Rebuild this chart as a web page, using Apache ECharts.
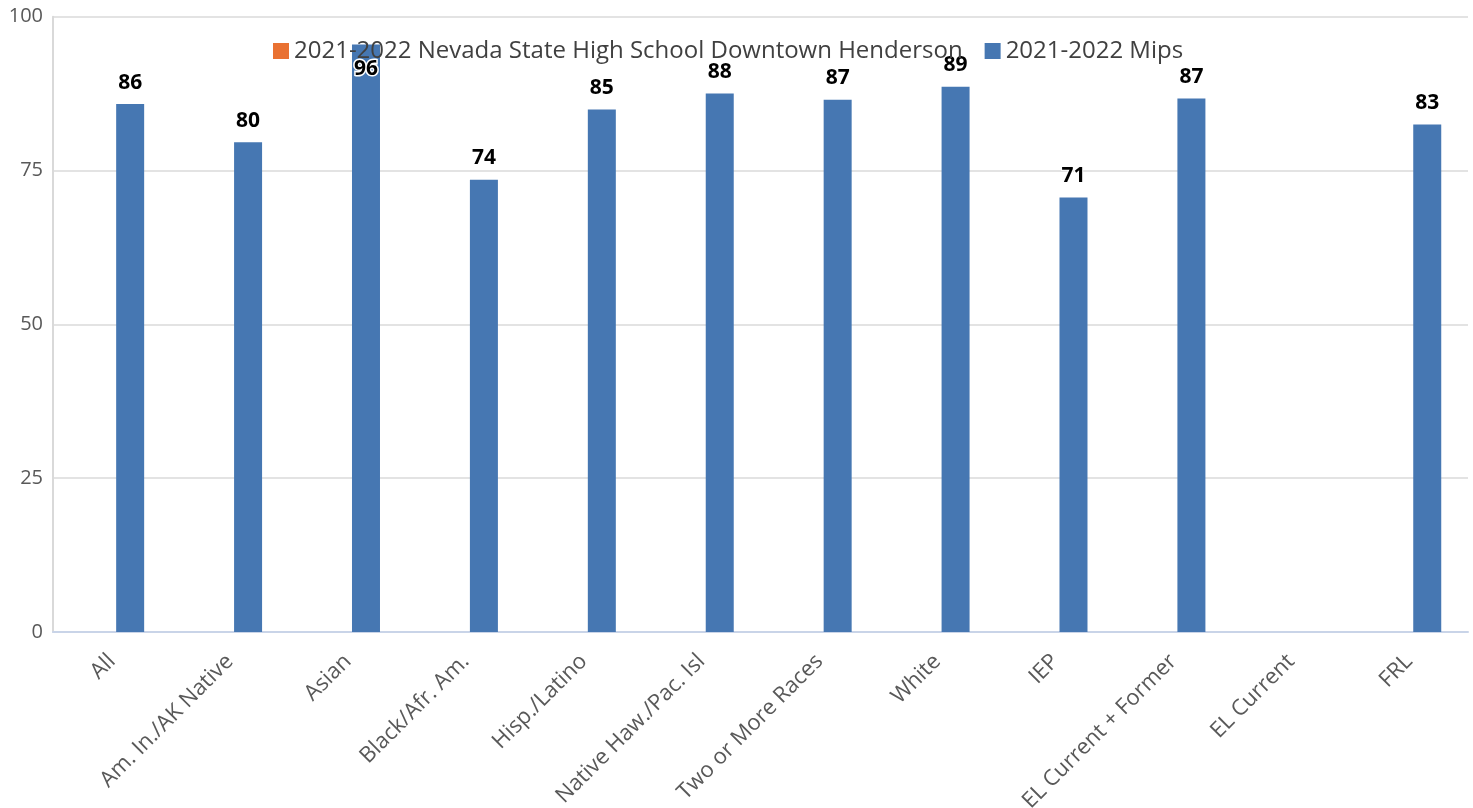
<!DOCTYPE html>
<html>
<head>
<meta charset="utf-8">
<script src="https://cdn.jsdelivr.net/npm/echarts@6/dist/echarts.min.js"></script>
<style>
html,body{margin:0;padding:0;background:#fff;}
#chart{width:1473px;height:808px;}
</style>
</head>
<body>
<div id="chart"></div>
<script>
const categories = ["All","Am. In./AK Native","Asian","Black/Afr. Am.","Hisp./Latino","Native Haw./Pac. Isl","Two or More Races","White","IEP","EL Current + Former","EL Current","FRL"];
const schoolName = "2021-2022 Nevada State High School Downtown Henderson";
const mipsName = "2021-2022 Mips";
const schoolValues = [null,null,null,null,null,null,null,null,null,null,null,null];
const mipsValues = [85.8,79.6,95.5,73.5,84.9,87.5,86.5,88.6,70.6,86.7,null,82.5];
const insideLabelCats = ["Asian"];

const FONT = "'Open Sans', 'Noto Sans', sans-serif";
const chart = echarts.init(document.getElementById('chart'), null, {renderer:'canvas'});

const mipsData = mipsValues.map((v,i)=>{
  if (insideLabelCats.includes(categories[i])) {
    return {value:v, label:{position:'insideTop', distance:14, color:'#000', textBorderColor:'#fff', textBorderWidth:3}};
  }
  return {value:v};
});

chart.setOption({
  animation:false,
  textStyle:{fontFamily:FONT},
  legend:{
    left:268, top:34,
    itemWidth:16, itemHeight:16, itemGap:22,
    icon:'rect',
    textStyle:{fontSize:24, color:'#404040', fontFamily:FONT},
    data:[schoolName, mipsName]
  },
  grid:{left:53, right:5, top:16.7, bottom:176, containLabel:false, outerBoundsMode:'none'},
  xAxis:{
    type:'category',
    data:categories,
    axisLine:{show:true, lineStyle:{color:'#c9d4e8', width:2}},
    axisTick:{show:false},
    axisLabel:{rotate:45, fontSize:22, color:'#595959', margin:26, interval:0, fontFamily:FONT}
  },
  yAxis:{
    type:'value', min:0, max:100, interval:25,
    axisLine:{show:true, lineStyle:{color:'#d9d9d9', width:2}},
    axisTick:{show:false},
    axisLabel:{fontSize:20, color:'#595959', margin:10, fontFamily:FONT},
    splitLine:{lineStyle:{color:'#e3e3e3', width:2}}
  },
  series:[
    {
      name:schoolName, type:'bar', data:schoolValues,
      barWidth:28, barGap:'30%',
      itemStyle:{color:'#e97132'}
    },
    {
      name:mipsName, type:'bar', data:mipsData,
      barWidth:28, barGap:'30%',
      itemStyle:{color:'#4677b2'},
      label:{
        show:true, position:'top', distance:11,
        fontSize:21, fontWeight:'bold', color:'#000', fontFamily:FONT,
        textBorderColor:'#fff', textBorderWidth:2,
        formatter:p=>p.value==null?'':Math.round(p.value)
      }
    }
  ]
});
</script>
</body>
</html>
